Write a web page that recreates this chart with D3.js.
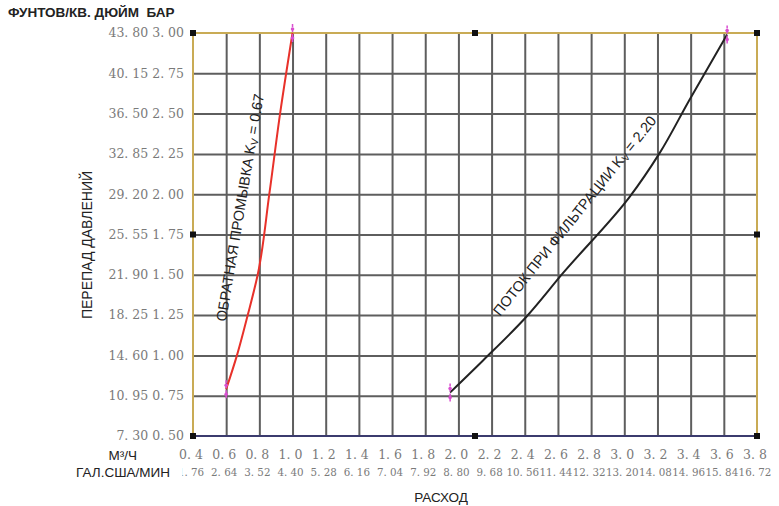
<!DOCTYPE html>
<html>
<head>
<meta charset="utf-8">
<script src="https://cdn.jsdelivr.net/npm/d3@7"></script>
<style>
  body { margin: 0; background: #fff; }
  text { font-family: "Liberation Sans", Arial, sans-serif; }
  .tick-lbl { font-family: "DejaVu Serif", serif; fill: #7a7a7a; font-size: 12px; }
  .grid .domain { display: none; }
</style>
</head>
<body>
<div id="chart"></div>
<script>
// Pressure drop vs flow chart

// axis ticks
const barTicks = [0.50, 0.75, 1.00, 1.25, 1.50, 1.75, 2.00, 2.25, 2.50, 2.75, 3.00]
const psiTicks = [7.30, 10.95, 14.60, 18.25, 21.90, 25.55, 29.20, 32.85, 36.50, 40.15, 43.80]
const flowTicks = [0.4, 0.6, 0.8, 1.0, 1.2, 1.4, 1.6, 1.8, 2.0, 2.2, 2.4, 2.6, 2.8, 3.0, 3.2, 3.4, 3.6, 3.8]
const galTicks = [1.76, 2.64, 3.52, 4.40, 5.28, 6.16, 7.04, 7.92, 8.80, 9.68, 10.56, 11.44, 12.32, 13.20, 14.08, 14.96, 15.84, 16.72]

// backwash curve (m3/h, bar)
const backwashFlow = [0.60, 0.665, 0.73, 0.79, 0.86, 0.925, 1.00]
const backwashDp = [0.79, 1.00, 1.25, 1.50, 2.00, 2.50, 3.00]

// filtration curve (m3/h, bar)
const filterFlow = [1.95, 2.15, 2.41, 2.63, 3.03, 3.21, 3.39, 3.62]
const filterDp = [0.77, 0.97, 1.24, 1.51, 1.98, 2.25, 2.58, 2.99]

const width = 779, height = 506
const margin = {left: 193, right: 22, top: 33, bottom: 70}

const svg = d3.select("#chart")
  .append("svg")
    .attr("width", width)
    .attr("height", height)

const x = d3.scaleLinear()
  .domain([0.4, 3.8])
  .range([margin.left, width - margin.right])

const y = d3.scaleLinear()
  .domain([0.5, 3.0])
  .range([height - margin.bottom, margin.top])

const fmt = (v, n) => v.toFixed(n).replace(".", ". ")

// grid from axes with full-length ticks
svg.append("g")
  .attr("class", "grid")
  .attr("transform", `translate(0, ${y(0.5)})`)
  .call(d3.axisBottom(x)
    .tickValues(flowTicks.slice(1, -1))
    .tickSize(-(y(0.5) - y(3.0)))
    .tickFormat(""))
  .call(g => g.selectAll(".tick line")
    .attr("stroke", "#5e5e5e")
    .attr("stroke-width", 2))

svg.append("g")
  .attr("class", "grid")
  .attr("transform", `translate(${x(0.4)}, 0)`)
  .call(d3.axisLeft(y)
    .tickValues(barTicks.slice(1, -1))
    .tickSize(-(x(3.8) - x(0.4)))
    .tickFormat(""))
  .call(g => g.selectAll(".tick line")
    .attr("stroke", "#5e5e5e")
    .attr("stroke-width", 2))

// frame
const gold = "#c9ab55"
svg.append("line").attr("x1", x(0.4)).attr("x2", x(3.8)).attr("y1", y(3.0)).attr("y2", y(3.0))
  .attr("stroke", gold).attr("stroke-width", 2)
svg.append("line").attr("x1", x(0.4)).attr("x2", x(0.4)).attr("y1", y(3.0)).attr("y2", y(0.5))
  .attr("stroke", gold).attr("stroke-width", 2)
svg.append("line").attr("x1", x(3.8)).attr("x2", x(3.8)).attr("y1", y(3.0)).attr("y2", y(0.5))
  .attr("stroke", gold).attr("stroke-width", 2)
svg.append("line").attr("x1", x(0.4)).attr("x2", x(3.8)).attr("y1", y(0.5)).attr("y2", y(0.5))
  .attr("stroke", "#3b3b6e").attr("stroke-width", 2.2)

// little square handles
const handles = [[0.4, 3.0], [0.4, 1.75], [0.4, 0.5], [2.1, 3.0], [2.1, 0.5], [3.8, 3.0], [3.8, 1.75], [3.8, 0.5]]
svg.append("g")
  .selectAll("rect")
  .data(handles)
  .join("rect")
    .attr("x", d => x(d[0]) - 3)
    .attr("y", d => y(d[1]) - 3)
    .attr("width", 6).attr("height", 6)
    .attr("fill", "#111")

// y tick labels
svg.append("g")
  .selectAll("text")
  .data(barTicks)
  .join("text")
    .attr("class", "tick-lbl")
    .style("font-size", "12.5px")
    .attr("x", x(0.4) - 9)
    .attr("y", d => y(d))
    .attr("dy", "0.35em")
    .attr("text-anchor", "end")
    .text((d, i) => fmt(psiTicks[i], 2) + " " + fmt(d, 2))

// x tick labels, row 1 (m3/h)
svg.append("g")
  .selectAll("text")
  .data(flowTicks)
  .join("text")
    .attr("class", "tick-lbl")
    .style("font-size", "12.5px")
    .attr("x", d => x(d) - 2)
    .attr("y", height - margin.bottom + 23)
    .attr("text-anchor", "middle")
    .text(d => fmt(d, 1))

// x tick labels, row 2 (US gal/min) - packed edge to edge
svg.append("clipPath").attr("id", "galclip")
  .append("rect").attr("x", 182).attr("y", 455).attr("width", 600).attr("height", 30)

svg.append("g")
  .attr("clip-path", "url(#galclip)")
  .selectAll("text")
  .data(galTicks)
  .join("text")
    .attr("class", "tick-lbl")
    .style("font-size", "10.3px")
    .attr("x", (d, i) => x(flowTicks[i]) - 2)
    .attr("y", height - margin.bottom + 40)
    .attr("text-anchor", "middle")
    .text(d => fmt(d, 2))

// axis titles
svg.append("text")
  .attr("x", 8).attr("y", 17)
  .attr("font-size", "13.5px").attr("font-weight", "bold").attr("fill", "#222")
  .style("white-space", "pre")
  .text("ФУНТОВ/КВ. ДЮЙМ  БАР")

svg.append("text")
  .attr("transform", "translate(92, 245) rotate(-90)")
  .attr("text-anchor", "middle")
  .attr("font-size", "14px").attr("fill", "#222")
  .text("ПЕРЕПАД ДАВЛЕНИЙ")

svg.append("text")
  .attr("x", 441).attr("y", 502)
  .attr("text-anchor", "middle")
  .attr("font-size", "13.5px").attr("fill", "#222")
  .text("РАСХОД")

svg.append("text")
  .attr("x", 137).attr("y", 460)
  .attr("text-anchor", "end")
  .attr("font-size", "13.5px").attr("fill", "#222")
  .text("М³/Ч")

svg.append("text")
  .attr("x", 170).attr("y", 477)
  .attr("text-anchor", "end")
  .attr("font-size", "13.5px").attr("fill", "#222")
  .text("ГАЛ.США/МИН")

// curves
const curve = d3.line()
  .x(d => x(d[0]))
  .y(d => y(d[1]))
  .curve(d3.curveMonotoneY)

const backwash = backwashFlow.map((v, i) => [v, backwashDp[i]])
const filtration = filterFlow.map((v, i) => [v, filterDp[i]])

svg.append("path")
  .datum(backwash)
  .attr("d", curve)
  .attr("fill", "none")
  .attr("stroke", "#e8312a")
  .attr("stroke-width", 2)

svg.append("path")
  .datum(filtration)
  .attr("d", curve)
  .attr("fill", "none")
  .attr("stroke", "#222")
  .attr("stroke-width", 2)

// magenta end markers
const ends = [backwash[0], backwash[backwash.length - 1], filtration[0], filtration[filtration.length - 1]]
const marks = svg.append("g")
  .selectAll("g")
  .data(ends)
  .join("g")
    .attr("transform", d => `translate(${x(d[0])}, ${y(d[1])})`)
marks.append("line")
  .attr("x1", 0).attr("x2", 0).attr("y1", -9).attr("y2", 9)
  .attr("stroke", "#d94fd0").attr("stroke-width", 1.5)
  .attr("stroke-dasharray", "3,2")
marks.append("circle").attr("cy", -4).attr("r", 1.8).attr("fill", "#d94fd0")
marks.append("circle").attr("cy", 5).attr("r", 1.8).attr("fill", "#d94fd0")

// curve labels
const bw = svg.append("text")
  .attr("transform", "translate(226, 322) rotate(-80.5)")
  .attr("font-size", "14.5px").attr("fill", "#222")
bw.append("tspan").text("ОБРАТНАЯ ПРОМЫВКА K")
bw.append("tspan").attr("font-size", "10px").attr("dy", "2").text("V")
bw.append("tspan").attr("dy", "-2").text(" = 0.67")

const fl = svg.append("text")
  .attr("transform", "translate(500, 317) rotate(-51.3)")
  .attr("font-size", "14.5px").attr("fill", "#222")
fl.append("tspan").text("ПОТОК ПРИ ФИЛЬТРАЦИИ K")
fl.append("tspan").attr("font-size", "10px").attr("dy", "2").text("V")
fl.append("tspan").attr("dy", "-2").text(" = 2.20")
</script>
</body>
</html>
